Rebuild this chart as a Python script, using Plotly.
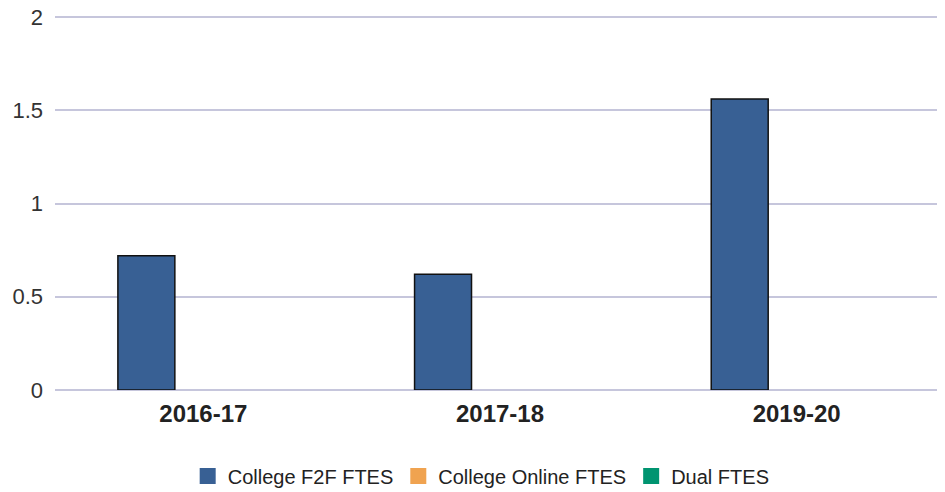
import plotly.graph_objects as go

categories = ["2016-17", "2017-18", "2019-20"]
f2f_ftes = [0.72, 0.62, 1.56]
online_ftes = [None, None, None]
dual_ftes = [None, None, None]
series_names = ["College F2F FTES", "College Online FTES", "Dual FTES"]
colors = ["#386094", "#f0a350", "#009470"]
y_ticks = [0, 0.5, 1, 1.5, 2]
y_tick_labels = ["0", "0.5", "1", "1.5", "2"]

fig = go.Figure()
for name, vals, col in zip(series_names, [f2f_ftes, online_ftes, dual_ftes], colors):
    fig.add_trace(go.Bar(
        x=categories, y=vals, name=name, legendgroup=name, showlegend=False,
        marker=dict(color=col, line=dict(color="#111111", width=1.5)),
    ))
# legend entries with larger square swatches
for name, col in zip(series_names, colors):
    fig.add_trace(go.Scatter(
        x=[None], y=[None], mode="markers", name=name, legendgroup=name,
        marker=dict(symbol="square", size=18, color=col, line=dict(width=0)),
        hoverinfo="skip",
    ))

fig.update_layout(
    width=937, height=484,
    barmode="group", bargap=0.424, bargroupgap=0,
    margin=dict(l=47, r=0, t=5, b=102, autoexpand=False),
    plot_bgcolor="white", paper_bgcolor="white",
    font=dict(family="Liberation Sans, Arial, sans-serif", size=20, color="#333333"),
    xaxis=dict(
        type="category",
        showgrid=False, showline=False, ticks="",
        tickfont=dict(size=24, color="#222222", family="Liberation Sans, Arial, sans-serif", weight="bold"),
        ticklabelstandoff=7,
    ),
    yaxis=dict(
        range=[0, 2.0214], tickvals=y_ticks, ticktext=y_tick_labels,
        showgrid=True, gridcolor="#c6c6dc", gridwidth=1.5,
        zeroline=True, zerolinecolor="#c6c6dc", zerolinewidth=1.5,
        showline=False, ticks="", ticklabelstandoff=11,
        ticklabeloverflow="allow",
        tickfont=dict(size=22, color="#333333"),
    ),
    legend=dict(
        orientation="h", xref="container", x=0.505, xanchor="center",
        yref="paper", y=-0.228, yanchor="middle",
        font=dict(size=20, color="#222222"),
        traceorder="normal", itemsizing="trace",
    ),
    showlegend=True,
)

fig.write_html("out.html")
